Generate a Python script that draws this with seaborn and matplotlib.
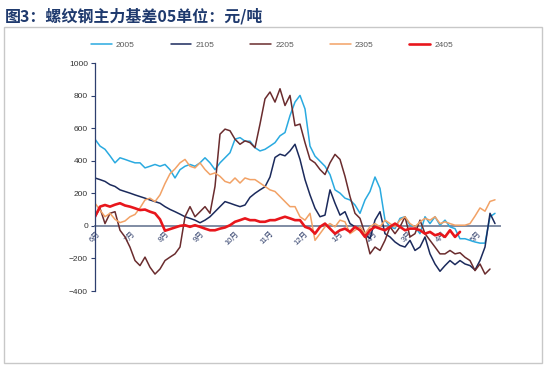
import numpy as np
import pandas as pd
import matplotlib
matplotlib.use("Agg")
import matplotlib.pyplot as plt
from matplotlib.patches import Rectangle
import seaborn as sns

# Basis values (yuan/ton), sampled roughly every few trading days from June to May
s2005 = [532, 490, 470, 430, 387, 418, 408, 397, 387, 387, 356, 366, 377, 366, 377, 345, 294, 345, 366, 377,
         366, 387, 418, 387, 345, 387, 418, 449, 532, 542, 520, 520, 480, 460, 470, 490, 511, 553, 573, 677,
         760, 801, 718, 490, 428, 397, 366, 315, 221, 201, 170, 159, 128, 77, 159, 211, 300, 230, 35, -6,
         -17, 46, 56, 4, -6, -48, 56, 14, 56, 4, 35, -6, -17, -79, -79, -89, -99, -106, -106, 56, 77]
s2105 = [294, 284, 273, 253, 242, 221, 211, 201, 190, 180, 170, 159, 149, 139, 118, 101, 87, 72, 56, 46,
         35, 19, 35, 56, 87, 118, 149, 139, 128, 118, 128, 175, 200, 221, 240, 300, 420, 440, 430, 460,
         501, 408, 284, 190, 108, 56, 66, 221, 139, 66, 87, 14, -6, -27, -48, -79, 35, 87, -48, -68,
         -99, -120, -130, -89, -151, -130, -68, -172, -234, -279, -244, -213, -238, -213, -234, -244, -271, -213, -130, 77, 14]
s2205 = [56, 108, 14, 77, 87, -27, -68, -131, -213, -244, -192, -254, -296, -265, -213, -192, -172, -130, 56, 118,
         56, 87, 118, 77, 242, 563, 594, 584, 532, 501, 522, 511, 480, 625, 780, 822, 760, 842, 739, 801,
         615, 625, 511, 408, 387, 346, 315, 387, 439, 408, 304, 180, 77, 46, -48, -172, -130, -151, -89, -6,
         -48, -6, 56, -68, -48, 35, -48, -89, -130, -172, -172, -151, -172, -165, -193, -213, -275, -234, -296, -265]
s2305 = [139, 97, 56, 77, 40, 20, 30, 56, 70, 110, 159, 170, 149, 190, 260, 320, 350, 387, 408, 366,
         356, 387, 346, 315, 325, 304, 273, 263, 294, 263, 294, 284, 284, 263, 242, 221, 211, 180, 149, 118,
         118, 56, 35, 77, -89, -48, -6, 14, -6, 35, 25, -48, -27, -6, -48, -6, 14, -6, 35, 14,
         -6, 35, 56, 14, -6, 25, 46, 35, 56, 14, 25, 14, 4, 4, 4, 14, 60, 110, 90, 150, 160]
s2405 = [56, 118, 128, 118, 130, 139, 125, 118, 108, 97, 100, 87, 77, 40, -30, -20, -10, 0, 4, -6,
         4, -6, -17, -27, -27, -17, -10, 4, 25, 35, 46, 35, 35, 25, 25, 35, 35, 46, 56, 46,
         35, 35, -6, -17, -48, -6, 14, -17, -48, -27, -17, -37, -6, -27, -68, -27, -6, -17, -27, -6,
         14, -6, -27, -17, -17, -27, -48, -37, -58, -48, -68, -27, -68, -37]

series = {"2005": s2005, "2105": s2105, "2205": s2205, "2305": s2305, "2405": s2405}
colors = {"2005": "#2AAAE0", "2105": "#1B2A5C", "2205": "#6A2C2E", "2305": "#F2A266", "2405": "#E8161C"}
widths = {"2005": 1.1, "2105": 1.1, "2205": 1.1, "2305": 1.1, "2405": 1.9}

months = ["6月", "7月", "8月", "9月", "10月", "11月", "12月", "1月", "2月", "3月", "4月", "5月"]

sns.set_style("white")
plt.rcParams["font.family"] = ["Liberation Sans", "Noto Sans CJK SC", "DejaVu Sans"]

fig = plt.figure(figsize=(5.47, 3.65), dpi=100)
ax = fig.add_axes([95 / 547, 74 / 365, 405 / 547, 228 / 365])

for name, vals in series.items():
    df = pd.DataFrame({"x": np.arange(len(vals)), "y": vals})
    sns.lineplot(data=df, x="x", y="y", ax=ax, color=colors[name], lw=widths[name], label=name)

# axis styling first: moving the spine resets the tick label properties
for sp in ["top", "right"]:
    ax.spines[sp].set_visible(False)
ax.spines["bottom"].set_position(("data", 0))
ax.spines["bottom"].set_color("#7F8BA3")
ax.spines["bottom"].set_linewidth(1.4)
ax.spines["bottom"].set_zorder(1)
ax.spines["left"].set_color("#2E3F6E")
ax.spines["left"].set_linewidth(0.9)

ax.set_xlim(0, 81)
ax.set_ylim(-400, 1000)
ax.set_yticks(range(-400, 1001, 200))
ax.set_xlabel("")
ax.set_ylabel("")

# month labels along the zero line
ax.set_xticks([0.4 + 6.92 * i for i in range(len(months))])
ax.set_xticklabels(months, fontsize=5.5, color="#2B3A67")
for lab in ax.get_xticklabels():
    lab.set_rotation(45)
    lab.set_ha("right")
    lab.set_rotation_mode("anchor")
ax.tick_params(axis="x", length=0, pad=3)
ax.tick_params(axis="y", direction="out", length=3, width=0.8, color="#2E3F6E",
               labelsize=6, labelcolor="#333333", left=True, pad=2)

ax.get_legend().remove()
handles, labels = ax.get_legend_handles_labels()
leg = fig.legend(handles, labels, loc="center", bbox_to_anchor=(272 / 547, 1 - 45 / 365), ncol=5,
                 frameon=False, fontsize=6, handlelength=2.5, handletextpad=0.5, columnspacing=4.3)
for t in leg.get_texts():
    t.set_color("#595959")

fig.text(5 / 547, 1 - 16 / 365, "图3：螺纹钢主力基差05单位：元/吨", fontsize=11.5, fontweight="bold",
         color="#1F3A6E", va="center", ha="left", family=["Noto Sans CJK SC", "DejaVu Sans"])

fig.patches.append(Rectangle((4 / 547, 2 / 365), 538 / 547, 336 / 365, transform=fig.transFigure,
                             fill=False, edgecolor="#C8C8C8", lw=1))

fig.savefig("out.png", dpi=100)
